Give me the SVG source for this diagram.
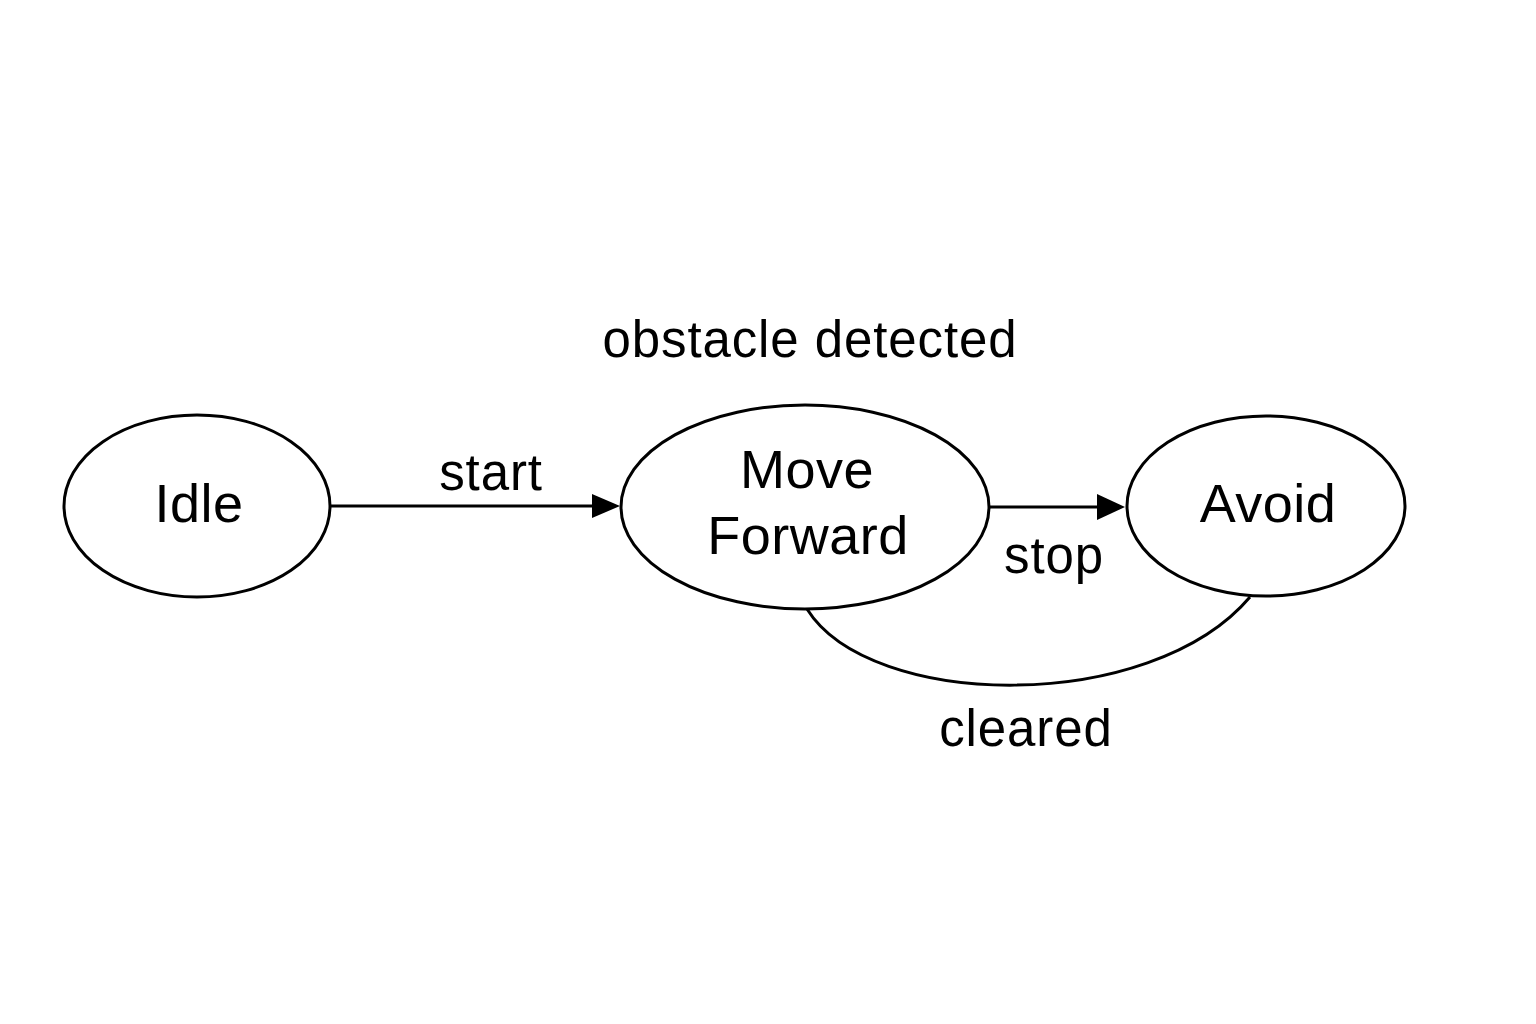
<svg xmlns="http://www.w3.org/2000/svg" width="1536" height="1024" viewBox="0 0 1536 1024">
<style>
.node{fill:#fff;stroke:#000;stroke-width:3}
.edge{fill:none;stroke:#000;stroke-width:3}
text{font-family:"Liberation Sans",Arial,sans-serif;fill:#000;text-anchor:middle}
.n{font-size:54px;letter-spacing:0.5px}
.l{font-size:51px;letter-spacing:0.9px}
</style>
<rect width="1536" height="1024" fill="#fff"/>
<g id="connectors">
<line class="edge" x1="331" y1="506" x2="592" y2="506"/>
<path d="M592,494 L620,506 L592,518 Z" fill="#000"/>
<line class="edge" x1="989" y1="507" x2="1098" y2="507"/>
<path d="M1097,494 L1125,507 L1097,520 Z" fill="#000"/>
<path class="edge" d="M807,609 C870,710 1150,715 1250,597"/>
<text class="l" x="491" y="490">start</text>
<text class="l" x="810" y="357">obstacle detected</text>
<text class="l" x="1054" y="573">stop</text>
<text class="l" x="1026" y="746">cleared</text>
</g>
<g id="idle">
<ellipse class="node" cx="197" cy="506" rx="133" ry="91"/>
<text class="n" x="199" y="522">Idle</text>
</g>
<g id="move-forward">
<ellipse class="node" cx="805" cy="507" rx="184" ry="102"/>
<text class="n" x="807" y="488">Move</text>
<text class="n" x="808" y="554">Forward</text>
</g>
<g id="avoid">
<ellipse class="node" cx="1266" cy="506" rx="139" ry="90"/>
<text class="n" x="1268" y="522">Avoid</text>
</g>
</svg>
